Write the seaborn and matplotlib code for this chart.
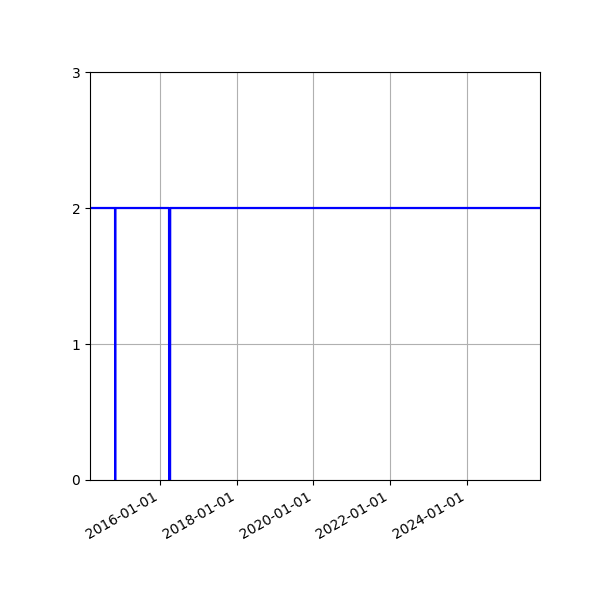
import pandas as pd
import matplotlib
matplotlib.use('Agg')
import matplotlib.pyplot as plt
import matplotlib.dates as mdates
import seaborn as sns

# Series: steady at 2 with two short drops to 0
dates = ['2014-03-01', '2014-10-26', '2014-10-27', '2014-10-28',
         '2016-03-24', '2016-03-25', '2016-04-03', '2016-04-04', '2025-12-01']
values = [2, 2, 0, 2, 2, 0, 0, 2, 2]
y_ticks = [0, 1, 2, 3]

df = pd.DataFrame({'date': pd.to_datetime(dates), 'value': values})

fig, ax = plt.subplots(figsize=(6, 6), dpi=100)
sns.lineplot(data=df, x='date', y='value', color='blue', linewidth=1.6,
             estimator=None, ax=ax)

ax.set_xlim(df['date'].min(), df['date'].max())
ax.set_ylim(0, 3)
ax.set_yticks(y_ticks)
ax.xaxis.set_major_locator(mdates.YearLocator(2))
ax.xaxis.set_major_formatter(mdates.DateFormatter('%Y-%m-%d'))
ax.set_xlabel('')
ax.set_ylabel('')
ax.grid(True)
fig.autofmt_xdate()
fig.subplots_adjust(left=0.15, right=0.9, top=0.88, bottom=0.2)

fig.savefig('out.png', dpi=100)
